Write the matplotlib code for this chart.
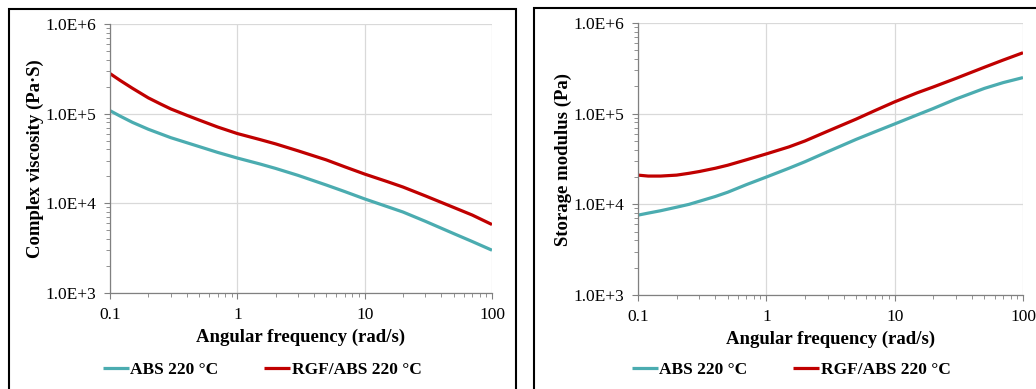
import numpy as np
import matplotlib
matplotlib.use("Agg")
import matplotlib.pyplot as plt
import matplotlib.patches as patches
from matplotlib.ticker import LogLocator, FixedLocator, FuncFormatter

plt.rcParams['font.family'] = ['Liberation Serif', 'DejaVu Serif']

#%% data
freq = [0.1, 0.12, 0.15, 0.2, 0.25, 0.3, 0.4, 0.5, 0.7, 1, 1.5, 2, 3, 5, 7, 10,
        15, 20, 30, 50, 70, 100]

visc_abs = [1.08e5, 9.4e4, 8.0e4, 6.7e4, 5.95e4, 5.4e4, 4.75e4, 4.3e4, 3.7e4, 3.2e4, 2.75e4,
            2.45e4, 2.05e4, 1.6e4, 1.35e4, 1.12e4, 9.2e3, 8.0e3, 6.3e3, 4.6e3, 3.75e3, 3.0e3]
visc_rgf = [2.8e5, 2.35e5, 1.92e5, 1.5e5, 1.28e5, 1.13e5, 9.6e4, 8.5e4, 7.1e4, 6.0e4, 5.15e4,
            4.6e4, 3.85e4, 3.05e4, 2.55e4, 2.12e4, 1.75e4, 1.52e4, 1.21e4, 9.0e3, 7.4e3, 5.8e3]

mod_abs = [7.6e3, 8.0e3, 8.5e3, 9.3e3, 1.0e4, 1.08e4, 1.22e4, 1.36e4, 1.65e4, 2.0e4, 2.5e4,
           2.95e4, 3.8e4, 5.2e4, 6.3e4, 7.7e4, 9.7e4, 1.14e5, 1.45e5, 1.9e5, 2.2e5, 2.5e5]
mod_rgf = [2.1e4, 2.05e4, 2.05e4, 2.1e4, 2.2e4, 2.3e4, 2.5e4, 2.7e4, 3.1e4, 3.6e4, 4.3e4,
           5.0e4, 6.4e4, 8.7e4, 1.08e5, 1.35e5, 1.7e5, 1.97e5, 2.45e5, 3.25e5, 3.9e5, 4.7e5]

labels = ['ABS 220 \u00b0C', 'RGF/ABS 220 \u00b0C']
colors = ['#4BACB0', '#C00000']
ytitles = ['Complex viscosity (Pa\u00b7S)', 'Storage modulus (Pa)']
xtitle = 'Angular frequency (rad/s)'

W, H = 1036, 389


def sci_fmt(v, pos):
    return '1.0E+%d' % int(round(np.log10(v)))


def style_axes(ax, ylab):
    ax.set_xscale('log')
    ax.set_yscale('log')
    ax.set_xlim(0.1, 100)
    ax.set_ylim(1e3, 1e6)
    ax.xaxis.set_major_locator(FixedLocator([0.1, 1, 10, 100]))
    ax.xaxis.set_major_formatter(FuncFormatter(lambda v, p: '%g' % v))
    ax.yaxis.set_major_locator(FixedLocator([1e3, 1e4, 1e5, 1e6]))
    ax.yaxis.set_major_formatter(FuncFormatter(sci_fmt))
    ax.xaxis.set_minor_locator(LogLocator(base=10, subs=np.arange(2, 10), numticks=20))
    ax.yaxis.set_minor_locator(LogLocator(base=10, subs=np.arange(2, 10), numticks=20))
    ax.grid(True, which='major', color='#D9D9D9', linewidth=0.9)
    for s in ['top', 'right']:
        ax.spines[s].set_visible(False)
    for s in ['left', 'bottom']:
        ax.spines[s].set_color('#808080')
        ax.spines[s].set_linewidth(0.9)
    ax.tick_params(which='major', length=4, color='#808080', labelsize=12.5, pad=6)
    ax.tick_params(which='minor', length=3, color='#808080')
    ax.set_xlabel(xtitle, fontsize=13.5, fontweight='bold', labelpad=4)
    ax.set_ylabel(ylab, fontsize=13.5, fontweight='bold', labelpad=1)


#%% figure
fig = plt.figure(figsize=(W / 100, H / 100), dpi=100)

# panel frames
fig.patches.append(patches.Rectangle((9 / W, -0.05), (516 - 9) / W, 1 - 9 / H + 0.05,
                                     transform=fig.transFigure, fill=False,
                                     edgecolor='black', linewidth=1.5))
fig.patches.append(patches.Rectangle((534 / W, -0.05), 0.6, 1 - 8 / H + 0.05,
                                     transform=fig.transFigure, fill=False,
                                     edgecolor='black', linewidth=1.5))

ax1 = fig.add_axes([110 / W, 1 - 293 / H, (492 - 110) / W, (293 - 24) / H])
ax2 = fig.add_axes([638 / W, 1 - 295 / H, (1023 - 638) / W, (295 - 23) / H])

for ax, series, ylab in [(ax1, [visc_abs, visc_rgf], ytitles[0]),
                         (ax2, [mod_abs, mod_rgf], ytitles[1])]:
    for vals, lab, c in zip(series, labels, colors):
        ax.plot(freq, vals, color=c, linewidth=2.3, label=lab, solid_capstyle='butt')
    style_axes(ax, ylab)

# legends centred under each panel
for ax, cx in [(ax1, 262), (ax2, 791)]:
    h, l = ax.get_legend_handles_labels()
    fig.legend(h, l, loc='center', bbox_to_anchor=(cx / W, 1 - 370 / H), ncol=2,
               frameon=False, handlelength=1.5, handletextpad=0.1, columnspacing=2.6,
               prop={'weight': 'bold', 'size': 12.5})

fig.savefig('out.png', dpi=100)
